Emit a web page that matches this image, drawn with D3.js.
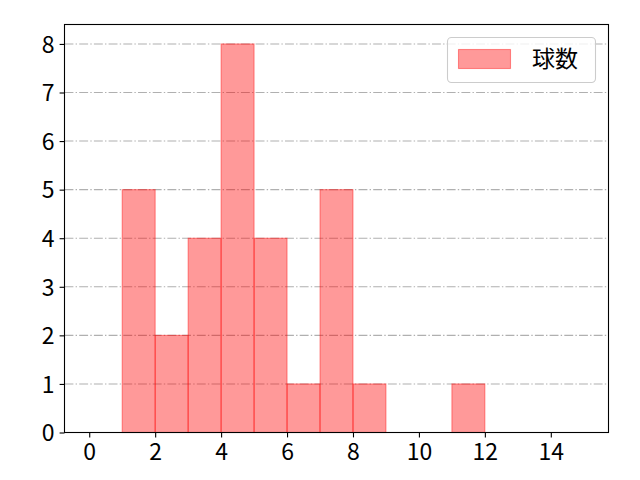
<!DOCTYPE html>
<html><head><meta charset="utf-8">
<script src="https://cdn.jsdelivr.net/npm/d3@7"></script>
<style>body{margin:0;background:#fff}svg{display:block}text{font-family:"Noto Sans CJK JP","DejaVu Sans",sans-serif}</style>
</head><body>
<svg id="c" width="640" height="480"></svg>
<script>
const binStarts = [0,1,2,3,4,5,6,7,8,9,10,11,12,13,14];
const counts    = [0,5,2,4,8,4,1,5,1,0,0,1,0,0,0];
const xTicks = [0,2,4,6,8,10,12,14];
const yTicks = [0,1,2,3,4,5,6,7,8];
const seriesName = "球数";

const svg = d3.select("#c");
const L=64.5, R=608.5, T=24.5, B=432.5;
const x = d3.scaleLinear().domain([-0.75,15.75]).range([L,R]);
const y = d3.scaleLinear().domain([0,8.4]).range([B,T]);
const FS = 23;

// grid
svg.append("g").selectAll("line").data(yTicks).join("line")
 .attr("x1",L).attr("x2",R).attr("y1",d=>y(d)).attr("y2",d=>y(d))
 .attr("stroke","#b0b0b0").attr("stroke-width",1.1).attr("stroke-dasharray","8.9,2.2,1.4,2.2");

// bars
const bars = binStarts.map((s,i)=>({s, e:s+1, c:counts[i]})).filter(d=>d.c>0);
svg.append("g").selectAll("rect").data(bars).join("rect")
 .attr("x",d=>x(d.s)).attr("width",d=>x(d.e)-x(d.s))
 .attr("y",d=>y(d.c)).attr("height",d=>y(0)-y(d.c))
 .attr("fill","red").attr("fill-opacity",0.4)
 .attr("stroke","red").attr("stroke-opacity",0.4).attr("stroke-width",1.1);

// axes
const xa = svg.append("g").attr("transform",`translate(0,${B})`)
 .call(d3.axisBottom(x).tickValues(xTicks).tickSize(4.9).tickPadding(5).tickFormat(d3.format("d")));
const ya = svg.append("g").attr("transform",`translate(${L},0)`)
 .call(d3.axisLeft(y).tickValues(yTicks).tickSize(4.9).tickPadding(5).tickFormat(d3.format("d")));
[xa,ya].forEach(a=>{
 a.select(".domain").remove();
 a.attr("font-size",FS).attr("font-family",null);
 a.selectAll(".tick line").attr("stroke","#000").attr("stroke-width",1.1);
 a.selectAll(".tick text").attr("font-size",FS).attr("fill","#000");
});
xa.selectAll(".tick text").attr("y",0).attr("dy",null).attr("transform",`translate(0,${460-B})`);
ya.selectAll(".tick text").attr("dy","0.36em");
svg.append("rect").attr("x",L).attr("y",T).attr("width",R-L).attr("height",B-T)
 .attr("fill","none").attr("stroke","#000").attr("stroke-width",1.1);

// legend
const lg = svg.append("g");
lg.append("rect").attr("x",447.5).attr("y",37.5).attr("width",148).attr("height",45).attr("rx",4)
 .attr("fill","#fff").attr("fill-opacity",0.8).attr("stroke","#cccccc").attr("stroke-width",1.1);
lg.append("rect").attr("x",458.5).attr("y",49.5).attr("width",52).attr("height",19)
 .attr("fill","red").attr("fill-opacity",0.4).attr("stroke","red").attr("stroke-opacity",0.4).attr("stroke-width",1.1);
lg.append("text").attr("x",532).attr("y",59).attr("dy","0.36em").attr("font-size",FS).attr("fill","#000").text(seriesName);
</script>
</body></html>
